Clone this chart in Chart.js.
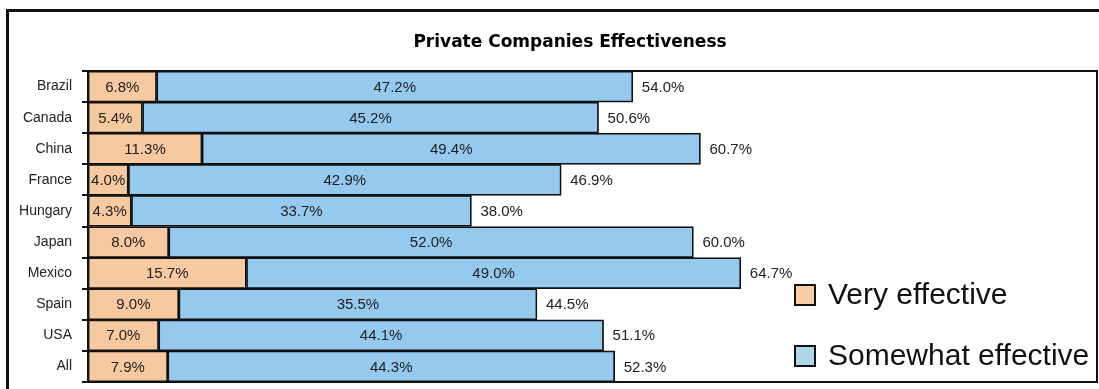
<!DOCTYPE html>
<html>
<head>
<meta charset="utf-8">
<title>Private Companies Effectiveness</title>
<script src="https://cdn.jsdelivr.net/npm/chart.js@4/dist/chart.umd.min.js"></script>
<style>
  html, body { margin: 0; padding: 0; background: #fff; }
  #wrap { position: relative; width: 1099px; height: 389px; overflow: hidden; }
  canvas { display: block; }
</style>
</head>
<body>
<div id="wrap"><canvas id="chart" width="1099" height="389"></canvas></div>
<script>
// Survey shares per country (percent)
const categories = ['Brazil', 'Canada', 'China', 'France', 'Hungary', 'Japan', 'Mexico', 'Spain', 'USA', 'All'];
const veryEffective = [6.8, 5.4, 11.3, 4.0, 4.3, 8.0, 15.7, 9.0, 7.0, 7.9];
const somewhatEffective = [47.2, 45.2, 49.4, 42.9, 33.7, 52.0, 49.0, 35.5, 44.1, 44.3];
const totalEffective = [54.0, 50.6, 60.7, 46.9, 38.0, 60.0, 64.7, 44.5, 51.1, 52.3];
const seriesNames = ['Very effective', 'Somewhat effective'];
const chartTitle = 'Private Companies Effectiveness';
const axisMax = 100;

const barColors = ['#F7C9A1', '#95C9EE'];
const legendColors = ['#F8CEA4', '#AED6E8'];
const labelFont = "15px 'Liberation Sans', Arial, sans-serif";
const textColor = '#222';

const pct = v => v.toFixed(1) + '%';

// Outer frame, title, plot frame, value labels and legend
const decorations = {
  id: 'decorations',
  beforeDraw(chart) {
    const ctx = chart.ctx;
    ctx.save();
    ctx.strokeStyle = '#111';
    ctx.lineWidth = 3;
    ctx.beginPath();
    ctx.moveTo(7.5, chart.height + 2);
    ctx.lineTo(7.5, 10.5);
    ctx.lineTo(chart.width + 2, 10.5);
    ctx.stroke();

    ctx.fillStyle = '#000';
    ctx.font = "bold 17px 'DejaVu Sans', sans-serif";
    ctx.textAlign = 'center';
    ctx.textBaseline = 'alphabetic';
    ctx.fillText(chartTitle, 570, 47);
    ctx.restore();
  },
  afterDatasetsDraw(chart) {
    const ctx = chart.ctx;
    const area = chart.chartArea;
    ctx.save();
    ctx.fillStyle = textColor;
    ctx.font = labelFont;
    ctx.textBaseline = 'middle';

    chart.data.datasets.forEach((ds, di) => {
      const meta = chart.getDatasetMeta(di);
      meta.data.forEach((bar, i) => {
        const p = bar.getProps(['x', 'y', 'base'], true);
        ctx.textAlign = 'center';
        ctx.fillText(pct(ds.data[i]), (p.x + p.base) / 2, p.y + 1);
      });
    });

    const last = chart.getDatasetMeta(chart.data.datasets.length - 1);
    last.data.forEach((bar, i) => {
      const p = bar.getProps(['x', 'y'], true);
      ctx.textAlign = 'left';
      ctx.fillText(pct(totalEffective[i]), p.x + 9, p.y + 1);
    });

    // plot frame
    ctx.strokeStyle = '#111';
    ctx.lineWidth = 2;
    ctx.beginPath();
    ctx.moveTo(area.left, area.top);
    ctx.lineTo(area.right, area.top);
    ctx.lineTo(area.right, area.bottom);
    ctx.lineTo(area.left, area.bottom);
    ctx.stroke();

    // legend
    const boxSize = 22;
    const boxLeft = area.right - 303;
    const rows = [area.bottom - 87, area.bottom - 26];
    ctx.font = "30px 'Liberation Sans', Arial, sans-serif";
    ctx.textAlign = 'left';
    ctx.textBaseline = 'middle';
    seriesNames.forEach((name, i) => {
      const cy = rows[i];
      ctx.fillStyle = legendColors[i];
      ctx.fillRect(boxLeft, cy - boxSize / 2, boxSize, boxSize);
      ctx.strokeStyle = '#111';
      ctx.lineWidth = 2;
      ctx.strokeRect(boxLeft + 1, cy - boxSize / 2 + 1, boxSize - 2, boxSize - 2);
      ctx.fillStyle = '#111';
      ctx.fillText(name, boxLeft + boxSize + 12, cy + 1);
    });
    ctx.restore();
  }
};

new Chart(document.getElementById('chart'), {
  type: 'bar',
  data: {
    labels: categories,
    datasets: [
      { label: seriesNames[0], data: veryEffective, backgroundColor: barColors[0] },
      { label: seriesNames[1], data: somewhatEffective, backgroundColor: barColors[1] }
    ]
  },
  options: {
    indexAxis: 'y',
    responsive: false,
    animation: false,
    events: [],
    layout: { padding: { top: 71, right: 2, bottom: 7, left: 0 } },
    datasets: {
      bar: {
        barPercentage: 1,
        categoryPercentage: 1,
        borderColor: '#111',
        borderWidth: 1.75,
        borderSkipped: false
      }
    },
    scales: {
      x: {
        stacked: true,
        min: 0,
        max: axisMax,
        display: false
      },
      y: {
        stacked: true,
        afterFit(scale) {
          scale.width = 88;
          scale.paddingTop = 0;
          scale.paddingBottom = 0;
        },
        grid: {
          offset: true,
          drawOnChartArea: false,
          drawTicks: true,
          tickLength: 6,
          color: '#111',
          lineWidth: 2
        },
        border: { display: true, color: '#111', width: 2 },
        ticks: {
          padding: 10,
          color: textColor,
          font: { family: "'Liberation Sans', Arial, sans-serif", size: 14 }
        }
      }
    },
    plugins: {
      legend: { display: false },
      title: { display: false },
      tooltip: { enabled: false }
    }
  },
  plugins: [decorations]
});
</script>
</body>
</html>
